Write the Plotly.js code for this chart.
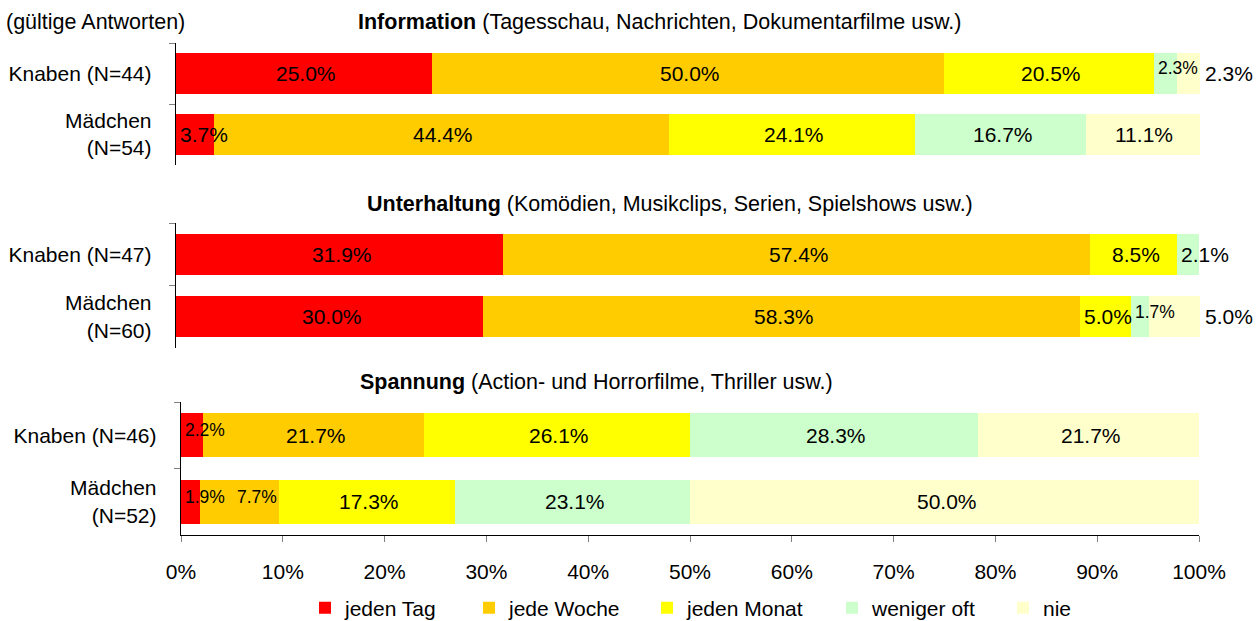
<!DOCTYPE html>
<html>
<head>
<meta charset="utf-8">
<script src="https://cdn.plot.ly/plotly-3.0.1.min.js"></script>
<style>html,body{margin:0;padding:0;background:#fff;}#chart{width:1260px;height:621px;}</style>
</head>
<body>
<div id="chart"></div>
<script>
// ---------- data ----------
const seriesNames = ['jeden Tag', 'jede Woche', 'jeden Monat', 'weniger oft', 'nie'];
const seriesColors = ['#FF0000', '#FFCC00', '#FFFF00', '#CCFFCC', '#FFFFCC'];

const panelTitleBold = ['Information', 'Unterhaltung', 'Spannung'];
const panelTitleRest = [
  ' (Tagesschau, Nachrichten, Dokumentarfilme usw.)',
  ' (Komödien, Musikclips, Serien, Spielshows usw.)',
  ' (Action- und Horrorfilme, Thriller usw.)'
];
const noteText = '(gültige Antworten)';

const infoCategories = ['Knaben (N=44)', 'Mädchen<br>(N=54)'];
const infoKnaben   = [25.0, 50.0, 20.5, 2.3, 2.3];
const infoMaedchen = [3.7, 44.4, 24.1, 16.7, 11.1];

const unterCategories = ['Knaben (N=47)', 'Mädchen<br>(N=60)'];
const unterKnaben   = [31.9, 57.4, 8.5, 2.1, 0];
const unterMaedchen = [30.0, 58.3, 5.0, 1.7, 5.0];

const spannCategories = ['Knaben (N=46)', 'Mädchen<br>(N=52)'];
const spannKnaben   = [2.2, 21.7, 26.1, 28.3, 21.7];
const spannMaedchen = [1.9, 7.7, 17.3, 23.1, 50.0];

const xTickValues = [0, 10, 20, 30, 40, 50, 60, 70, 80, 90, 100];
const xTickLabels = ['0%', '10%', '20%', '30%', '40%', '50%', '60%', '70%', '80%', '90%', '100%'];

// ---------- layout / style constants ----------
const FW = 1260, FH = 621;
const FONT = 'Liberation Sans, Arial, sans-serif';
const FS = 21, FS_SMALL = 17.5, FS_TITLE = 21.5;
const legendEntryWidths = [119, 133, 140, 126, 40];
const px2x = p => p / FW;
const px2y = p => 1 - p / FH;

const panels = [
  {cats: infoCategories, rows: [infoKnaben, infoMaedchen], xd: [px2x(176), px2x(1200)], yd: [px2y(165), px2y(43)], titleX: 659, titleY: 22},
  {cats: unterCategories, rows: [unterKnaben, unterMaedchen], xd: [px2x(176), px2x(1200)], yd: [px2y(348), px2y(223)], titleX: 670, titleY: 204},
  {cats: spannCategories, rows: [spannKnaben, spannMaedchen], xd: [px2x(181), px2x(1199)], yd: [px2y(535), px2y(402)], titleX: 596, titleY: 382}
];

function textWidth(txt, fs) {
  let w = 0;
  for (const ch of txt) w += (ch === '.') ? 0.278 : (ch === '%') ? 0.889 : 0.556;
  return w * fs;
}

const traces = [];
const annotations = [];
const layout = {
  width: FW, height: FH,
  margin: {l: 0, r: 0, t: 0, b: 0, autoexpand: false},
  paper_bgcolor: '#ffffff', plot_bgcolor: '#ffffff',
  barmode: 'stack', bargap: 0.34,
  showlegend: true,
  hovermode: false,
  font: {family: FONT, size: FS, color: '#000'},
  legend: {
    orientation: 'h', x: px2x(305), xanchor: 'left', y: px2y(608), yanchor: 'middle',
    font: {family: FONT, size: FS, color: '#000'}, traceorder: 'normal',
    itemwidth: 30, bgcolor: 'rgba(0,0,0,0)'
  },
  annotations: annotations
};

panels.forEach((p, pi) => {
  const sfx = pi === 0 ? '' : String(pi + 1);
  const xa = 'x' + sfx, ya = 'y' + sfx;
  const xKey = 'xaxis' + sfx, yKey = 'yaxis' + sfx;
  const isBottom = pi === panels.length - 1;
  layout[xKey] = {
    domain: p.xd, range: [0, 100], anchor: ya, fixedrange: true,
    showgrid: false, zeroline: false,
    visible: isBottom,
    showline: true, linecolor: '#000', linewidth: 1.3,
    ticks: 'outside', ticklen: 6, tickcolor: '#808080', tickwidth: 1,
    tickvals: xTickValues, ticktext: xTickLabels,
    ticklabelstandoff: 11,
    tickfont: {family: FONT, size: FS, color: '#000'}
  };
  layout[yKey] = {
    domain: p.yd, type: 'category', categoryorder: 'array', categoryarray: p.cats,
    range: [1.5, -0.5], anchor: xa, fixedrange: true,
    showgrid: false, zeroline: false,
    showline: true, linecolor: '#000', linewidth: 1.3,
    ticks: 'outside', tickson: 'boundaries', ticklen: 6, tickcolor: '#808080', tickwidth: 1,
    ticklabelstandoff: 19,
    tickfont: {family: FONT, size: FS, color: '#000'}
  };

  seriesNames.forEach((name, si) => {
    traces.push({
      type: 'bar', orientation: 'h', name: name,
      x: p.rows.map(r => r[si]), y: p.cats,
      xaxis: xa, yaxis: ya,
      marker: {color: seriesColors[si], line: {width: 0}},
      textposition: 'none', hoverinfo: 'skip',
      legendgroup: name, showlegend: pi === 0,
      legendwidth: legendEntryWidths[si]
    });
  });

  // panel title
  annotations.push({
    xref: 'paper', yref: 'paper', x: px2x(p.titleX), y: px2y(p.titleY),
    xanchor: 'center', yanchor: 'middle', showarrow: false,
    text: '<b>' + panelTitleBold[pi] + '</b>' + panelTitleRest[pi],
    font: {family: FONT, size: FS_TITLE, color: '#000'}
  });

  // data labels
  const W = (p.xd[1] - p.xd[0]) * FW;
  p.rows.forEach((vals, ri) => {
    let cum = 0, prevEnd = -1e9;
    let lastNZ = -1;
    vals.forEach((v, i) => { if (v > 0) lastNZ = i; });
    vals.forEach((v, si) => {
      if (v <= 0) { return; }
      const txt = v.toFixed(1) + '%';
      const segStart = cum * W / 100, segW = v * W / 100;
      const wN = textWidth(txt, FS);
      let fs = FS, small = false, x, xshift = 0, left;
      if (si === seriesNames.length - 1 && segW < wN + 12) {
        x = 100; xshift = 3; left = W + 3;
      } else if (segW >= wN + 12) {
        left = segStart + segW / 2 - wN / 2;
        if (left < prevEnd + 4) { small = true; fs = FS_SMALL; left = prevEnd + 12; }
        x = left * 100 / W;
      } else {
        small = v < 3 && si !== lastNZ;
        fs = small ? FS_SMALL : FS;
        left = segStart + 2;
        x = left * 100 / W;
      }
      prevEnd = left + textWidth(txt, fs);
      annotations.push({
        xref: xa, yref: ya, x: x, y: p.cats[ri],
        xanchor: 'left', yanchor: 'middle', xshift: xshift, yshift: small ? 5 : 0,
        showarrow: false, text: txt,
        font: {family: FONT, size: fs, color: '#000'}
      });
      cum += v;
    });
  });
});

annotations.push({
  xref: 'paper', yref: 'paper', x: px2x(4), y: px2y(22),
  xanchor: 'left', yanchor: 'middle', showarrow: false,
  text: noteText, font: {family: FONT, size: FS_TITLE, color: '#000'}
});

Plotly.newPlot('chart', traces, layout, {staticPlot: true, displayModeBar: false});
</script>
</body>
</html>
